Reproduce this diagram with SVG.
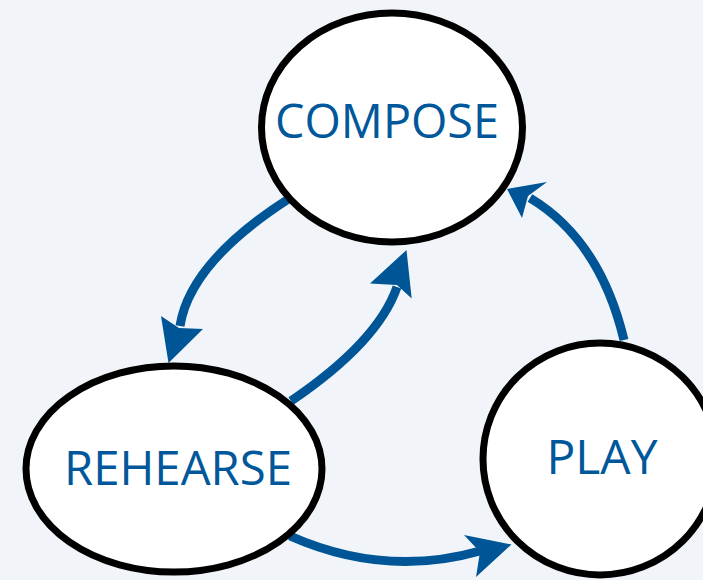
<svg xmlns="http://www.w3.org/2000/svg" width="703" height="580" viewBox="0 0 703 580">
<style>
.node{fill:#ffffff;stroke:#000000;stroke-width:7}
.lbl{font-family:"Open Sans","Liberation Sans",sans-serif;font-size:48px;fill:#00579a;text-anchor:middle}
.edge{fill:none;stroke:#005596;stroke-width:9}
.head{fill:#005596;stroke:none}
</style>
<rect width="703" height="580" fill="#f1f5f9"/>
<g id="connectors">
<path class="edge" d="M290 198 Q190 262 180 326"/>
<polygon class="head" points="168.5,363 161,316 179,328 203,329"/>
<path class="edge" d="M291 401 Q378 342 397 287"/>
<polygon class="head" points="406.5,250 370,283.5 397,285 411.7,298.5"/>
<path class="edge" d="M624 340 Q600 240 530 198"/>
<polygon class="head" points="507,189 547,182 528,196 522,218"/>
<path class="edge" d="M290 536 Q385 578 480 551"/>
<polygon class="head" points="511.5,544.5 464,535 480,552 476,577"/>
</g>
<g id="compose">
<ellipse class="node" cx="392" cy="127.5" rx="130.5" ry="114.5"/>
<text class="lbl" x="387" y="138" textLength="224" lengthAdjust="spacingAndGlyphs">COMPOSE</text>
</g>
<g id="rehearse">
<ellipse class="node" cx="174" cy="469" rx="148" ry="103"/>
<text class="lbl" x="178" y="484.5" textLength="228" lengthAdjust="spacingAndGlyphs">REHEARSE</text>
</g>
<g id="play">
<ellipse class="node" cx="600" cy="459" rx="117" ry="116"/>
<text class="lbl" x="602" y="473.5" textLength="111" lengthAdjust="spacingAndGlyphs">PLAY</text>
</g>
</svg>
